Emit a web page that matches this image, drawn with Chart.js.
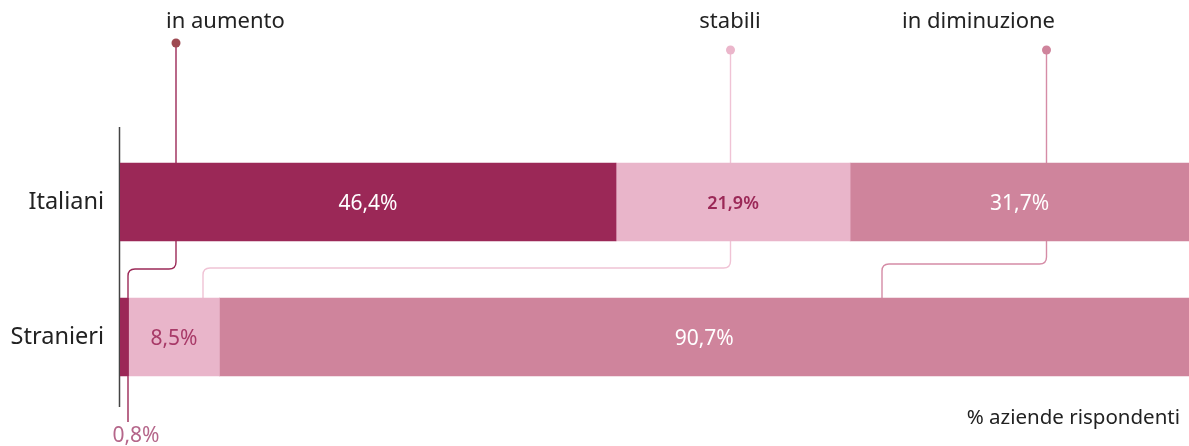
<!DOCTYPE html>
<html>
<head>
<meta charset="utf-8">
<script src="https://cdn.jsdelivr.net/npm/chart.js@4"></script>
<style>
  html, body { margin: 0; padding: 0; background: #fff; }
  #wrap { width: 1189px; height: 446px; position: relative; }
</style>
</head>
<body>
<div id="wrap"><canvas id="chart"></canvas></div>
<script>
// data
const categories = ['Italiani', 'Stranieri'];
const seriesNames = ['in aumento', 'stabili', 'in diminuzione'];
const inAumento = [46.4, 0.8];
const stabili = [21.9, 8.5];
const inDiminuzione = [31.7, 90.7];
const axisMax = 100;

const barColors = ['#9b2857', '#e9b5ca', '#cf849c'];
const dotColors = ['#9e4a52', '#ebb6cb', '#cf849c'];
const lineColors = ['#9c2a58', '#f0c3d5', '#d58ca6'];
const FONT = '"Noto Sans", "Open Sans", sans-serif';

// label colours per bar: [series][category], null = label drawn outside
const labelColors = [
  ['#ffffff', null],
  ['#9b2857', '#a83a68'],
  ['#ffffff', '#ffffff']
];

// connector annotations (legend labels hanging over the bars)
const connectors = [
  { text: 'in aumento', tx: 166, align: 'left', x1: 176, dotY: 43, yh: 269, x2: 128, yEnd: 422 },
  { text: 'stabili', tx: 730, align: 'center', x1: 730.5, dotY: 50, yh: 268, x2: 203, yEnd: 300 },
  { text: 'in diminuzione', tx: 1055, align: 'right', x1: 1046.5, dotY: 50, yh: 264, x2: 882, yEnd: 300 }
];

function fmt(v) {
  return v.toFixed(1).replace('.', ',') + '%';
}

const connectorPlugin = {
  id: 'connectors',
  beforeDatasetsDraw(chart) {
    const ctx = chart.ctx;
    ctx.save();
    const r = 7;
    connectors.forEach((c, i) => {
      ctx.strokeStyle = lineColors[i];
      ctx.lineWidth = 1.4;
      ctx.beginPath();
      ctx.moveTo(c.x1, c.dotY);
      ctx.lineTo(c.x1, c.yh - r);
      ctx.quadraticCurveTo(c.x1, c.yh, c.x1 - r, c.yh);
      ctx.lineTo(c.x2 + r, c.yh);
      ctx.quadraticCurveTo(c.x2, c.yh, c.x2, c.yh + r);
      ctx.lineTo(c.x2, c.yEnd);
      ctx.stroke();

      ctx.fillStyle = dotColors[i];
      ctx.beginPath();
      ctx.arc(c.x1, c.dotY, 4.5, 0, Math.PI * 2);
      ctx.fill();

      ctx.fillStyle = '#222';
      ctx.font = '22px ' + FONT;
      ctx.textAlign = c.align;
      ctx.textBaseline = 'middle';
      ctx.fillText(c.text, c.tx, 22);
    });

    // vertical axis line
    const xs = chart.scales.x;
    ctx.strokeStyle = '#444';
    ctx.lineWidth = 1.5;
    ctx.beginPath();
    ctx.moveTo(xs.left - 0.5, 127);
    ctx.lineTo(xs.left - 0.5, 407);
    ctx.stroke();
    ctx.restore();
  },
  afterDatasetsDraw(chart) {
    const ctx = chart.ctx;
    ctx.save();
    ctx.textAlign = 'center';
    ctx.textBaseline = 'middle';
    chart.data.datasets.forEach((ds, di) => {
      const meta = chart.getDatasetMeta(di);
      meta.data.forEach((bar, ci) => {
        const v = ds.data[ci];
        const col = labelColors[di][ci];
        const cx = (bar.x + bar.base) / 2;
        if (col) {
          ctx.fillStyle = col;
          ctx.font = (di === 1 && ci === 0 ? '600 18px ' : '21px ') + FONT;
          ctx.fillText(fmt(v), cx, bar.y + 2);
        } else {
          // tiny segment: label below the bar
          ctx.fillStyle = '#b5668a';
          ctx.font = '21px ' + FONT;
          ctx.fillText(fmt(v), 136, 436);
        }
      });
    });

    // note at bottom right
    ctx.fillStyle = '#222';
    ctx.font = '20.5px ' + FONT;
    ctx.textAlign = 'right';
    ctx.fillText('% aziende rispondenti', 1180, 418);
    ctx.restore();
  }
};

const ctx = document.getElementById('chart');

new Chart(ctx, {
  type: 'bar',
  data: {
    labels: categories,
    datasets: [
      { label: seriesNames[0], data: inAumento, backgroundColor: barColors[0] },
      { label: seriesNames[1], data: stabili, backgroundColor: barColors[1] },
      { label: seriesNames[2], data: inDiminuzione, backgroundColor: barColors[2] }
    ]
  },
  options: {
    indexAxis: 'y',
    responsive: true,
    maintainAspectRatio: false,
    animation: false,
    layout: { padding: { top: 134.5, bottom: 41.5, left: 0, right: 0 } },
    datasets: { bar: { barThickness: 78, borderWidth: 0 } },
    plugins: {
      legend: { display: false },
      tooltip: { enabled: false }
    },
    scales: {
      x: {
        stacked: true,
        min: 0,
        max: axisMax,
        display: false
      },
      y: {
        stacked: true,
        grid: { display: false },
        border: { display: false },
        afterFit(scale) { scale.width = 120; },
        ticks: {
          color: '#222',
          padding: 8,
          font: { size: 23.5, family: FONT }
        }
      }
    }
  },
  plugins: [connectorPlugin]
});
</script>
</body>
</html>
